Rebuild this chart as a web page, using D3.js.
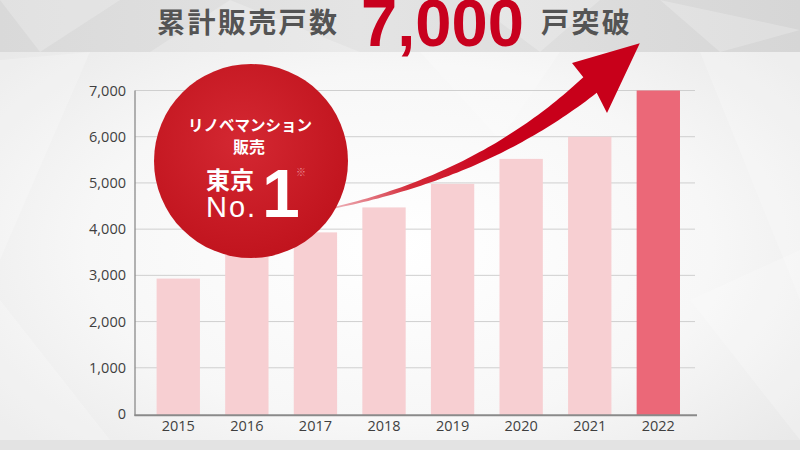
<!DOCTYPE html>
<html>
<head>
<meta charset="utf-8">
<script src="https://cdn.jsdelivr.net/npm/d3@7/dist/d3.min.js"></script>
<style>
  html, body { margin: 0; padding: 0; background: #eee; }
  svg { display: block; }
</style>
</head>
<body>
<svg id="chart" width="800" height="450"></svg>
<script>
// ---- data ----
const years = ["2015", "2016", "2017", "2018", "2019", "2020", "2021", "2022"];
const units = [2930, 3450, 3930, 4470, 4980, 5520, 6000, 7000];
const yTicks = [0, 1000, 2000, 3000, 4000, 5000, 6000, 7000];
const highlightYear = "2022";
const titleLeft = "累計販売戸数";
const titleNumber = "7,000";
const titleRight = "戸突破";
const badgeLines = ["リノベマンション", "販売"];
const badgeMain = "東京";

const svg = d3.select("#chart");
const W = 800, H = 450;
const defs = svg.append("defs");

// ---- background ----
const bgGrad = defs.append("radialGradient").attr("id", "bgGrad")
  .attr("cx", "50%").attr("cy", "55%").attr("r", "65%");
bgGrad.append("stop").attr("offset", "0%").attr("stop-color", "#ffffff");
bgGrad.append("stop").attr("offset", "60%").attr("stop-color", "#f7f7f7");
bgGrad.append("stop").attr("offset", "100%").attr("stop-color", "#e9e9e9");
svg.append("rect").attr("width", W).attr("height", H).attr("fill", "url(#bgGrad)");

const topGrad = defs.append("linearGradient").attr("id", "topGrad")
  .attr("x1", "0%").attr("x2", "100%").attr("y1", "0%").attr("y2", "0%");
topGrad.append("stop").attr("offset", "0%").attr("stop-color", "#d9d9d9");
topGrad.append("stop").attr("offset", "45%").attr("stop-color", "#e4e4e4");
topGrad.append("stop").attr("offset", "100%").attr("stop-color", "#d6d6d6");
svg.append("rect").attr("x", 0).attr("y", 0).attr("width", W).attr("height", 52)
  .attr("fill", "url(#topGrad)");

// subtle facets
const facets = [
  [[0,0],[120,0],[40,52]], [[230,0],[360,52],[150,52]], [[470,0],[600,0],[540,52]],
  [[660,0],[800,30],[720,52]], [[0,60],[90,52],[0,260]], [[700,52],[800,52],[800,300]],
  [[420,52],[560,52],[500,140]], [[0,300],[110,440],[0,440]], [[690,300],[800,250],[800,440]]
];
svg.append("g").selectAll("path").data(facets).join("path")
  .attr("d", d => "M" + d.map(p => p.join(",")).join("L") + "Z")
  .attr("fill", "#ffffff").attr("opacity", 0.22);

svg.append("rect").attr("x", 0).attr("y", 440).attr("width", W).attr("height", 10)
  .attr("fill", "#e3e3e3");

// ---- scales ----
const x = d3.scaleBand().domain(years).range([135, 695])
  .paddingInner(0.368).paddingOuter(0.267).align(0.59);
const y = d3.scaleLinear().domain([0, 7000]).range([414, 90.5]);

// gridlines
svg.append("g").selectAll("line").data(yTicks.filter(d => d > 0)).join("line")
  .attr("x1", 135).attr("x2", 695)
  .attr("y1", d => y(d)).attr("y2", d => y(d))
  .attr("stroke", "#cfcfcf").attr("stroke-width", 1);

// bars
svg.append("g").selectAll("rect").data(years.map((yr, i) => ({ yr, v: units[i] }))).join("rect")
  .attr("x", d => x(d.yr)).attr("width", x.bandwidth())
  .attr("y", d => y(d.v)).attr("height", d => y(0) - y(d.v) + 1)
  .attr("fill", d => d.yr === highlightYear ? "#eb6878" : "#f7cfd2");

// axes
svg.append("line").attr("x1", 135).attr("x2", 135).attr("y1", y(7000)).attr("y2", 416)
  .attr("stroke", "#8a8a8a").attr("stroke-width", 1.3);
svg.append("line").attr("x1", 134.5).attr("x2", 697).attr("y1", 415.3).attr("y2", 415.3)
  .attr("stroke", "#8a8a8a").attr("stroke-width", 2);

const font = "'Open Sans', 'Noto Sans', sans-serif";
const yAxis = d3.axisLeft(y).tickValues(yTicks).tickFormat(d3.format(",")).tickSize(0).tickPadding(9);
const gy = svg.append("g").attr("transform", "translate(135,0)").call(yAxis);
gy.select(".domain").remove();
gy.selectAll("text").attr("font-family", font).attr("font-size", 14.5).attr("fill", "#3f3f3f");

const xAxis = d3.axisBottom(x).tickSize(0).tickPadding(6);
const gx = svg.append("g").attr("transform", "translate(0,415)").call(xAxis);
gx.select(".domain").remove();
gx.selectAll("text").attr("font-family", font).attr("font-size", 14.5).attr("fill", "#3f3f3f");

// ---- arrow ----
const arrowGrad = defs.append("linearGradient").attr("id", "arrowGrad")
  .attr("gradientUnits", "userSpaceOnUse")
  .attr("x1", 335).attr("y1", 207).attr("x2", 500).attr("y2", 150);
arrowGrad.append("stop").attr("offset", "0%").attr("stop-color", "#eeb1b8");
arrowGrad.append("stop").attr("offset", "45%").attr("stop-color", "#d42a38");
arrowGrad.append("stop").attr("offset", "100%").attr("stop-color", "#c8001a");

const P0 = [333, 208], C = [485, 175], P1 = [590, 85];
const bez = t => [
  (1-t)*(1-t)*P0[0] + 2*(1-t)*t*C[0] + t*t*P1[0],
  (1-t)*(1-t)*P0[1] + 2*(1-t)*t*C[1] + t*t*P1[1]
];
const tan = t => {
  const dx = 2*(1-t)*(C[0]-P0[0]) + 2*t*(P1[0]-C[0]);
  const dy = 2*(1-t)*(C[1]-P0[1]) + 2*t*(P1[1]-C[1]);
  const L = Math.hypot(dx, dy);
  return [dx/L, dy/L];
};
const upper = [], lower = [];
for (let i = 0; i <= 60; i++) {
  const t = i / 60;
  const p = bez(t), tv = tan(t), n = [-tv[1], tv[0]];
  const h = 0.8 + 9.5 * Math.pow(t, 1.3);
  upper.push([p[0] - h*n[0], p[1] - h*n[1]]);
  lower.push([p[0] + h*n[0], p[1] + h*n[1]]);
}
const tE = tan(1), nE = [-tE[1], tE[0]];
const at = (a, b) => [P1[0] + a*tE[0] + b*nE[0], P1[1] + a*tE[1] + b*nE[1]];
const leftBarb = at(0.7, -28.4), tip = at(65, 0.7), rightBarb = at(-5.3, 32.3);
const arrowPts = upper.concat([leftBarb, tip, rightBarb]).concat(lower.slice().reverse());
svg.append("path")
  .attr("d", "M" + arrowPts.map(p => p[0].toFixed(1) + "," + p[1].toFixed(1)).join("L") + "Z")
  .attr("fill", "url(#arrowGrad)");

// ---- badge circle ----
const cGrad = defs.append("radialGradient").attr("id", "cGrad")
  .attr("cx", "45%").attr("cy", "40%").attr("r", "60%");
cGrad.append("stop").attr("offset", "0%").attr("stop-color", "#d42832");
cGrad.append("stop").attr("offset", "100%").attr("stop-color", "#c1141e");
const cx = 251, cy = 161, r = 97;
svg.append("circle").attr("cx", cx).attr("cy", cy).attr("r", r).attr("fill", "url(#cGrad)");

const jp = "'Noto Sans CJK JP', 'Noto Sans', sans-serif";
const latin = "'Liberation Sans', Arial, sans-serif";
svg.append("text").attr("x", cx - 1).attr("y", 131).attr("text-anchor", "middle")
  .attr("font-family", jp).attr("font-weight", 700).attr("font-size", 15.5)
  .attr("fill", "#ffffff").text(badgeLines[0]);
svg.append("text").attr("x", cx - 2).attr("y", 153).attr("text-anchor", "middle")
  .attr("font-family", jp).attr("font-weight", 700).attr("font-size", 16)
  .attr("fill", "#ffffff").text(badgeLines[1]);
svg.append("text").attr("x", 230).attr("y", 189).attr("text-anchor", "middle")
  .attr("font-family", jp).attr("font-weight", 700).attr("font-size", 24)
  .attr("fill", "#ffffff").text(badgeMain);
svg.append("text").attr("x", 206).attr("y", 217)
  .attr("font-family", latin).attr("font-weight", 400)
  .attr("font-size", 29).attr("letter-spacing", 2).attr("fill", "#ffffff").text("No.");
svg.append("text").attr("x", 262).attr("y", 217)
  .attr("font-family", latin).attr("font-weight", 700)
  .attr("font-size", 68).attr("fill", "#ffffff").text("1");
svg.append("text").attr("x", 301).attr("y", 176).attr("text-anchor", "middle")
  .attr("font-family", jp).attr("font-size", 10)
  .attr("fill", "#e88a92").text("※");

// ---- title ----
svg.append("text").attr("x", 157).attr("y", 33)
  .attr("font-family", jp).attr("font-weight", 700).attr("font-size", 28)
  .attr("letter-spacing", 2.4).attr("fill", "#545454").text(titleLeft);
svg.append("text").attr("x", 361).attr("y", 46)
  .attr("font-family", latin)
  .attr("font-weight", 700).attr("font-size", 67)
  .attr("textLength", 163).attr("lengthAdjust", "spacingAndGlyphs")
  .attr("fill", "#c8001e").text(titleNumber);
svg.append("text").attr("x", 541).attr("y", 33)
  .attr("font-family", jp).attr("font-weight", 700).attr("font-size", 28)
  .attr("letter-spacing", 2.4).attr("fill", "#545454").text(titleRight);
</script>
</body>
</html>
